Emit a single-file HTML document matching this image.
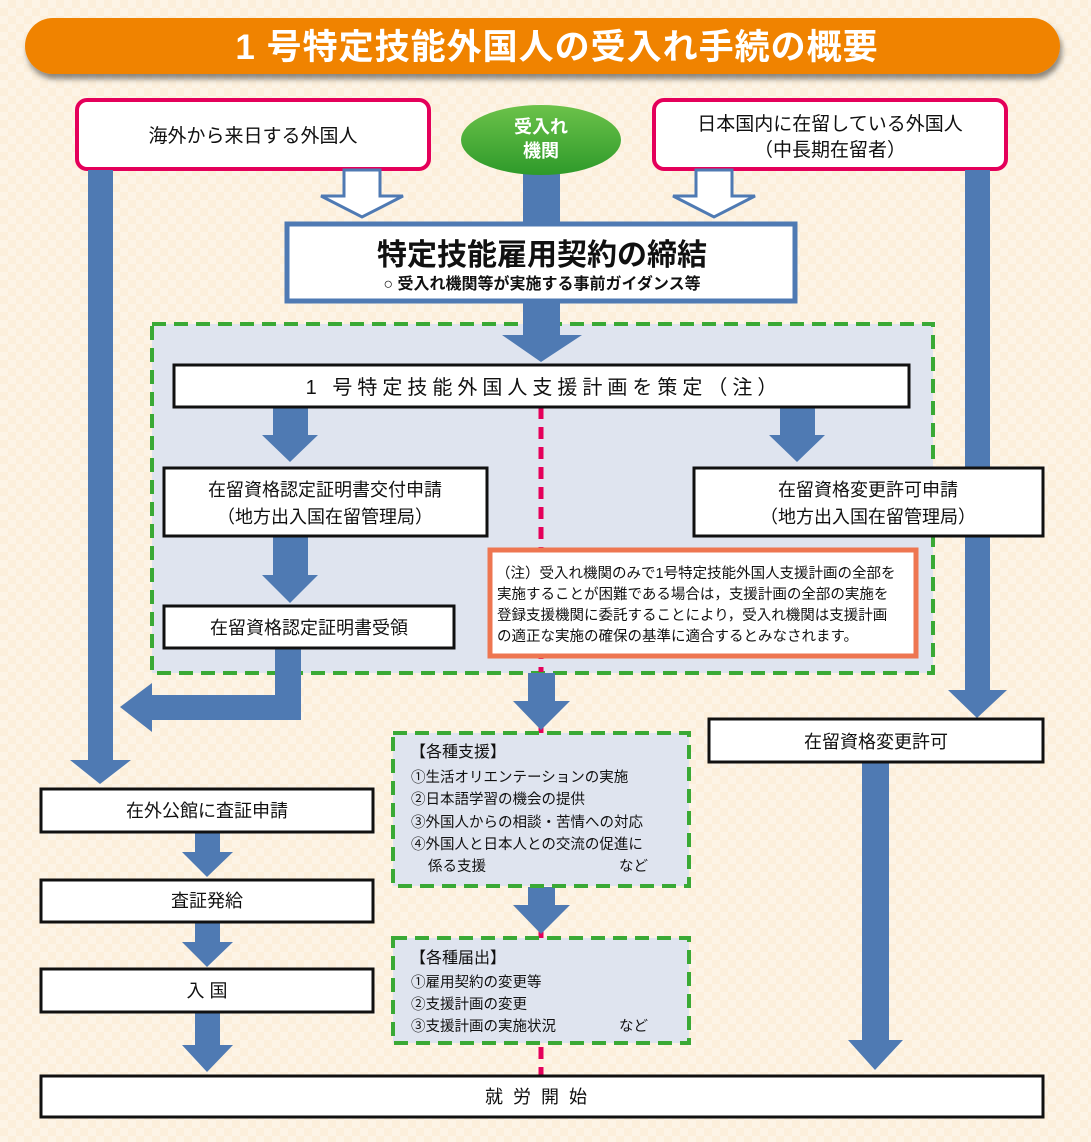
<!DOCTYPE html>
<html><head><meta charset="utf-8"><style>
html,body{margin:0;padding:0;background:#fcefdb}
svg{display:block}
text{font-family:"Liberation Sans","Noto Sans CJK JP",sans-serif;fill:#111}
.b{font-weight:bold}
</style></head><body>
<svg width="1091" height="1142" viewBox="0 0 1091 1142" xmlns="http://www.w3.org/2000/svg">
<defs>
<pattern id="chk" width="16" height="16" patternUnits="userSpaceOnUse"><rect width="16" height="16" fill="#fcefdb"/><rect width="8" height="8" fill="#fdf4e6"/><rect x="8" y="8" width="8" height="8" fill="#fdf4e6"/></pattern>
<linearGradient id="gr" x1="0" y1="0" x2="0" y2="1"><stop offset="0" stop-color="#6cc24a"/><stop offset="1" stop-color="#2e9a2a"/></linearGradient>
<filter id="sh" x="-5%" y="-30%" width="110%" height="170%"><feDropShadow dx="2" dy="5" stdDeviation="3" flood-color="#000" flood-opacity="0.45"/></filter>
</defs>
<rect width="1091" height="1142" fill="url(#chk)"/>
<rect x="25" y="18" width="1035" height="56" rx="28" fill="#f08300" filter="url(#sh)"/>
<text x="557" y="59" text-anchor="middle" class="b" font-size="35" letter-spacing="1" style="fill:#fff">1 号特定技能外国人の受入れ手続の概要</text>

<line x1="541" y1="407" x2="541" y2="1076" stroke="#e4005a" stroke-width="5" stroke-dasharray="12,8"/>

<rect x="152" y="324" width="781" height="349" fill="#dfe4ef" stroke="#3aa935" stroke-width="4" stroke-dasharray="14,8"/>
<line x1="541" y1="407" x2="541" y2="672" stroke="#e4005a" stroke-width="5" stroke-dasharray="12,8"/>

<rect x="77" y="100" width="352" height="69" rx="10" fill="#fff" stroke="#e4005a" stroke-width="4"/>
<text x="253" y="142" text-anchor="middle" font-size="19">海外から来日する外国人</text>
<rect x="654" y="100" width="352" height="69" rx="10" fill="#fff" stroke="#e4005a" stroke-width="4"/>
<text x="830" y="130" text-anchor="middle" font-size="19">日本国内に在留している外国人</text>
<text x="830" y="156" text-anchor="middle" font-size="19">（中長期在留者）</text>

<g fill="#4f7ab3">
<rect x="88" y="170" width="25" height="592"/><polygon points="70,760 131,760 100,784"/>
<rect x="965" y="170" width="25" height="522"/><polygon points="948,690 1007,690 977,718"/>
<rect x="523" y="170" width="37" height="55"/>
<rect x="523" y="302" width="37" height="35"/><polygon points="502,335 582,335 541,362"/>
<rect x="273" y="407" width="35" height="30"/><polygon points="262,435 318,435 290,462"/>
<rect x="780" y="407" width="35" height="30"/><polygon points="769,435 825,435 797,462"/>
<rect x="273" y="537" width="35" height="40"/><polygon points="262,575 318,575 290,603"/>
<rect x="275" y="648" width="26" height="72"/><rect x="150" y="695" width="151" height="25"/><polygon points="152,683 152,732 120,707"/>
<rect x="528" y="673" width="27" height="30"/><polygon points="513,701 570,701 541,730"/>
<rect x="528" y="887" width="27" height="20"/><polygon points="513,905 570,905 541,934"/>
<rect x="862" y="762" width="27" height="280"/><polygon points="848,1040 903,1040 875,1070"/>
<rect x="195" y="832" width="25" height="22"/><polygon points="182,852 233,852 207,877"/>
<rect x="195" y="922" width="25" height="22"/><polygon points="182,942 233,942 207,967"/>
<rect x="195" y="1012" width="25" height="35"/><polygon points="182,1045 233,1045 207,1072"/>
</g>

<polygon points="344,170 380,170 380,196 403,196 362,217 321,196 344,196" fill="#fff" stroke="#4f7ab3" stroke-width="3"/>
<polygon points="696,170 732,170 732,196 755,196 714,217 673,196 696,196" fill="#fff" stroke="#4f7ab3" stroke-width="3"/>

<ellipse cx="541" cy="140" rx="80" ry="35" fill="url(#gr)"/>
<text x="541" y="133" text-anchor="middle" class="b" font-size="18" style="fill:#fff">受入れ</text>
<text x="541" y="157" text-anchor="middle" class="b" font-size="18" style="fill:#fff">機関</text>

<rect x="287" y="224" width="508" height="77" fill="#fff" stroke="#4f7ab3" stroke-width="5"/>
<text x="542" y="265" text-anchor="middle" class="b" font-size="30">特定技能雇用契約の締結</text>
<text x="542" y="289" text-anchor="middle" class="b" font-size="16">○ 受入れ機関等が実施する事前ガイダンス等</text>

<rect x="174" y="365" width="735" height="42" fill="#fff" stroke="#111" stroke-width="3"/>
<text x="544" y="394" text-anchor="middle" font-size="20" letter-spacing="5">1 号特定技能外国人支援計画を策定（注）</text>

<rect x="164" y="468" width="323" height="68" fill="#fff" stroke="#111" stroke-width="3"/>
<text x="325" y="496" text-anchor="middle" font-size="18">在留資格認定証明書交付申請</text>
<text x="325" y="523" text-anchor="middle" font-size="18">（地方出入国在留管理局）</text>
<rect x="694" y="468" width="349" height="68" fill="#fff" stroke="#111" stroke-width="3"/>
<text x="868" y="496" text-anchor="middle" font-size="18">在留資格変更許可申請</text>
<text x="868" y="523" text-anchor="middle" font-size="18">（地方出入国在留管理局）</text>
<rect x="164" y="606" width="290" height="42" fill="#fff" stroke="#111" stroke-width="3"/>
<text x="309" y="634" text-anchor="middle" font-size="18">在留資格認定証明書受領</text>

<rect x="490" y="550" width="426" height="106" fill="#fff" stroke="#ee7651" stroke-width="5"/>
<g font-size="14.5">
<text x="496" y="578">（注）受入れ機関のみで1号特定技能外国人支援計画の全部を</text>
<text x="497" y="599">実施することが困難である場合は，支援計画の全部の実施を</text>
<text x="497" y="620">登録支援機関に委託することにより，受入れ機関は支援計画</text>
<text x="497" y="641">の適正な実施の確保の基準に適合するとみなされます。</text>
</g>

<rect x="393" y="733" width="296" height="153" fill="#dfe4ef" stroke="#3aa935" stroke-width="4" stroke-dasharray="14,8"/>
<g font-size="14.5">
<text x="410" y="757" font-size="16">【各種支援】</text>
<text x="411" y="782">①生活オリエンテーションの実施</text>
<text x="411" y="804">②日本語学習の機会の提供</text>
<text x="411" y="827">③外国人からの相談・苦情への対応</text>
<text x="411" y="849">④外国人と日本人との交流の促進に</text>
<text x="428" y="871">係る支援</text><text x="619" y="871">など</text>
</g>
<rect x="393" y="938" width="296" height="105" fill="#dfe4ef" stroke="#3aa935" stroke-width="4" stroke-dasharray="14,8"/>
<g font-size="14.5">
<text x="410" y="963" font-size="16">【各種届出】</text>
<text x="411" y="987">①雇用契約の変更等</text>
<text x="411" y="1009">②支援計画の変更</text>
<text x="411" y="1031">③支援計画の実施状況</text><text x="619" y="1031">など</text>
</g>

<rect x="709" y="719" width="334" height="43" fill="#fff" stroke="#111" stroke-width="3"/>
<text x="876" y="748" text-anchor="middle" font-size="18">在留資格変更許可</text>

<rect x="41" y="789" width="332" height="43" fill="#fff" stroke="#111" stroke-width="3"/>
<text x="207" y="817" text-anchor="middle" font-size="18">在外公館に査証申請</text>
<rect x="41" y="880" width="332" height="42" fill="#fff" stroke="#111" stroke-width="3"/>
<text x="207" y="907" text-anchor="middle" font-size="18">査証発給</text>
<rect x="41" y="969" width="332" height="43" fill="#fff" stroke="#111" stroke-width="3"/>
<text x="207" y="997" text-anchor="middle" font-size="18">入 国</text>

<rect x="41" y="1076" width="1002" height="41" fill="#fff" stroke="#111" stroke-width="3"/>
<text x="541" y="1103" text-anchor="middle" font-size="18" letter-spacing="10">就労開始</text>
</svg>
</body></html>
